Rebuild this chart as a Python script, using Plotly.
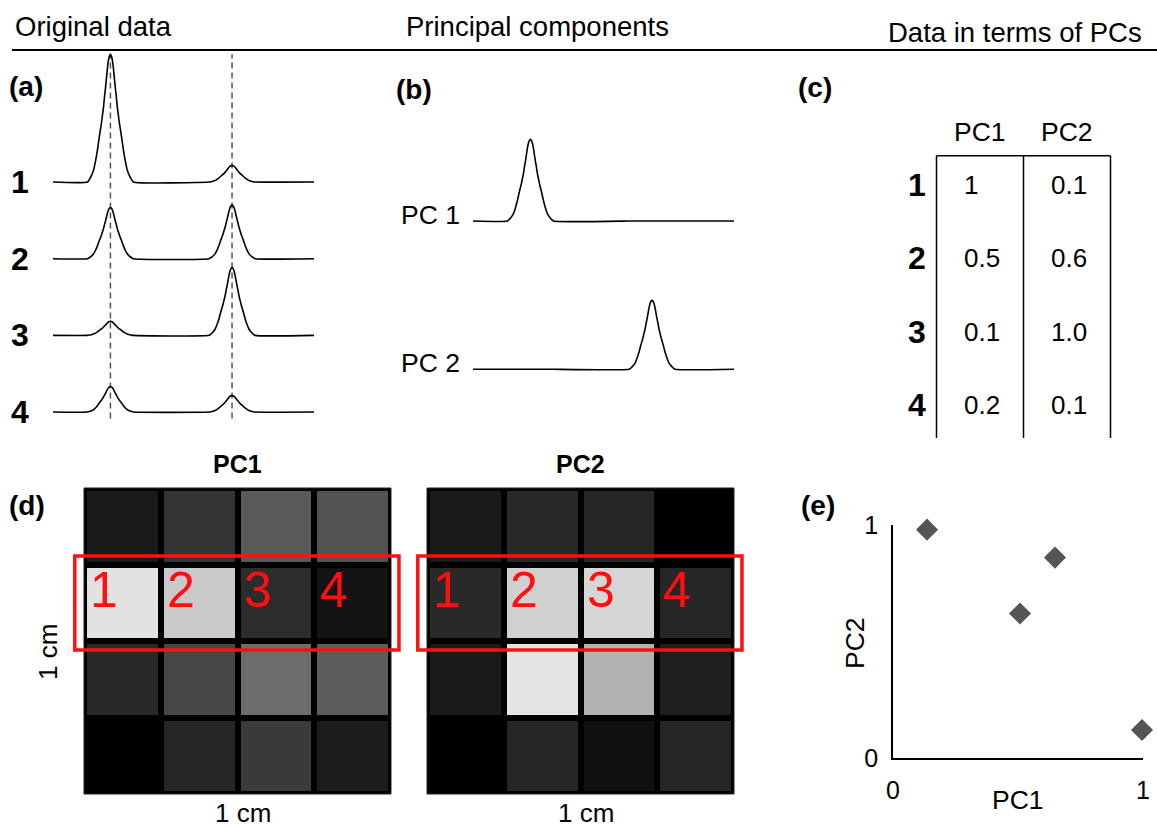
import plotly.graph_objects as go

W, H = 1157, 827
FONT = "Liberation Sans, Arial, sans-serif"

# ---------------- data ----------------
# (a) original spectra: two peaks on a 0..100 spectral axis
peak_positions = [22.0, 68.6]
spectra_labels = ["1", "2", "3", "4"]
spectra_peak1 = [1.00, 0.40, 0.11, 0.20]
spectra_peak2 = [0.13, 0.42, 0.53, 0.13]
spectra_offsets = [0.0, -0.6, -1.2, -1.8]

# (b) principal component spectra
pc_labels = ["PC 1", "PC 2"]
pc_peak1 = [0.64, 0.0]
pc_peak2 = [0.0, 0.54]
pc_offsets = [0.0, -1.16]

# peak line shape (offset in spectral units, relative height)
profile_offsets = [0.0, 0.38, 0.77, 1.15, 1.53, 1.92, 2.30, 2.68, 3.07, 3.45,
                   4.21, 4.98, 5.75, 6.51, 7.28, 8.05, 8.81]
profile_heights = [1.00, 0.985, 0.95, 0.89, 0.81, 0.73, 0.66, 0.58, 0.52, 0.46,
                   0.36, 0.25, 0.16, 0.09, 0.05, 0.02, 0.0]

# (c) table of scores
table_rows = ["1", "2", "3", "4"]
table_cols = ["PC1", "PC2"]
table_pc1 = ["1", "0.5", "0.1", "0.2"]
table_pc2 = ["0.1", "0.6", "1.0", "0.1"]

# (d) score maps (grey level 0..255), rows top->bottom
map_pc1 = [[26, 52, 90, 82],
           [226, 201, 44, 20],
           [41, 71, 108, 92],
           [0, 38, 58, 28]]
map_pc2 = [[26, 41, 38, 0],
           [41, 208, 214, 38],
           [27, 228, 178, 30],
           [0, 38, 16, 38]]
map_titles = ["PC1", "PC2"]
highlight_row = 1
highlight_labels = ["1", "2", "3", "4"]

# (e) score plot
scatter_pc1 = [0.136, 0.648, 0.508, 0.996]
scatter_pc2 = [0.98, 0.86, 0.62, 0.12]


# ---------------- helpers ----------------
def xdom(p0, p1):
    return [p0 / W, p1 / W]


def ydom(top, bottom):
    return [1 - bottom / H, 1 - top / H]


def px(x):
    return x / W


def py(y):
    return 1 - y / H


def build_spectrum(a1, a2, off):
    xs, ys = [0.0], [off]
    for pos, amp in zip(peak_positions, [a1, a2]):
        left = [(pos - o, off + amp * h) for o, h in zip(profile_offsets[::-1], profile_heights[::-1])]
        right = [(pos + o, off + amp * h) for o, h in zip(profile_offsets[1:], profile_heights[1:])]
        for x, y in left + right:
            xs.append(x)
            ys.append(y)
    xs.append(100.0)
    ys.append(off)
    return xs, ys


fig = go.Figure()
ann = []
shapes = []

# ---------------- (a) ----------------
for lab, a1, a2, off in zip(spectra_labels, spectra_peak1, spectra_peak2, spectra_offsets):
    xs, ys = build_spectrum(a1, a2, off)
    fig.add_trace(go.Scatter(x=xs, y=ys, mode="lines",
                             line=dict(color="black", width=1.6, shape="spline", smoothing=0.6),
                             xaxis="x", yaxis="y", showlegend=False, hoverinfo="skip"))
    ann.append(dict(text="<b>%s</b>" % lab, x=px(20), xref="paper", y=off, yref="y",
                    showarrow=False, font=dict(size=32, color="black"), xanchor="center", yanchor="middle"))
for pos in peak_positions:
    shapes.append(dict(type="line", xref="x", yref="y", x0=pos, x1=pos,
                       y0=min(spectra_offsets) - 0.05, y1=max(spectra_peak1),
                       line=dict(color="#555555", width=1.5, dash="6px,4px"), layer="below"))

# ---------------- (b) ----------------
for lab, a1, a2, off in zip(pc_labels, pc_peak1, pc_peak2, pc_offsets):
    xs, ys = build_spectrum(a1, a2, off)
    fig.add_trace(go.Scatter(x=xs, y=ys, mode="lines",
                             line=dict(color="black", width=1.6, shape="spline", smoothing=0.6),
                             xaxis="x2", yaxis="y2", showlegend=False, hoverinfo="skip"))
    ann.append(dict(text=lab, x=px(462), xref="paper", y=off, yref="y2", yshift=6,
                    showarrow=False, font=dict(size=26.5, color="black"), xanchor="right", yanchor="middle"))

# ---------------- (c) table ----------------
shapes.append(dict(type="line", xref="x3", yref="y3", x0=-0.5, x1=1.5, y0=-0.4, y1=-0.4,
                   line=dict(color="black", width=1.5)))
for xv in [-0.5, 0.5, 1.5]:
    shapes.append(dict(type="line", xref="x3", yref="y3", x0=xv, x1=xv, y0=-0.4, y1=3.45,
                       line=dict(color="black", width=1.5)))
for j, c in enumerate(table_cols):
    ann.append(dict(text=c, x=j, xref="x3", y=-0.72, yref="y3", showarrow=False,
                    font=dict(size=26.5, color="black"), xanchor="center", yanchor="middle"))
for i, r in enumerate(table_rows):
    ann.append(dict(text="<b>%s</b>" % r, x=-0.5, xref="x3", y=i, yref="y3", xshift=-9,
                    showarrow=False, font=dict(size=32, color="black"), xanchor="right", yanchor="middle"))
    for j, v in enumerate([table_pc1[i], table_pc2[i]]):
        ann.append(dict(text=v, x=j, xref="x3", y=i, yref="y3", xshift=-18, showarrow=False,
                        font=dict(size=26, color="black"), xanchor="left", yanchor="middle"))

# ---------------- (d) maps ----------------
map_boxes = [(84, 391), (427, 734)]   # pixel extents of each grid
for k, (zmap, title) in enumerate(zip([map_pc1, map_pc2], map_titles)):
    xa = "x%d" % (4 + k)
    ya = "y%d" % (4 + k)
    shapes.append(dict(type="rect", xref=xa, yref=ya, x0=-0.5, x1=3.5, y0=-0.5, y1=3.5,
                       fillcolor="black", line=dict(color="#222222", width=1), layer="below"))
    fig.add_trace(go.Heatmap(z=zmap, x=[0, 1, 2, 3], y=[0, 1, 2, 3], zmin=0, zmax=255,
                             colorscale=[[0, "black"], [1, "white"]], showscale=False,
                             xgap=6, ygap=6, xaxis=xa, yaxis=ya, hoverinfo="skip"))
    shapes.append(dict(type="rect", xref=xa, yref=ya, x0=-0.62, x1=3.604,
                       y0=highlight_row - 0.61, y1=highlight_row + 0.618,
                       line=dict(color="#ff1010", width=3.5), fillcolor="rgba(0,0,0,0)", layer="above"))
    for c, lab in enumerate(highlight_labels):
        ann.append(dict(text=lab, x=c - 0.5, xref=xa, y=highlight_row, yref=ya, xshift=4, yshift=13,
                        showarrow=False, font=dict(size=50, color="#ff1010"), xanchor="left", yanchor="middle"))
    cx = (map_boxes[k][0] + map_boxes[k][1]) / 2
    ann.append(dict(text="<b>%s</b>" % title, x=px(cx), xref="paper", y=py(464), yref="paper", showarrow=False,
                    font=dict(size=25, color="black"), xanchor="center", yanchor="middle"))
    ann.append(dict(text="1 cm", x=px(cx + 5), xref="paper", y=py(813), yref="paper", showarrow=False,
                    font=dict(size=26, color="black"), xanchor="center", yanchor="middle"))
ann.append(dict(text="1 cm", x=px(48), xref="paper", y=py(652), yref="paper", showarrow=False, textangle=-90,
                font=dict(size=26, color="black"), xanchor="center", yanchor="middle"))

# ---------------- (e) scatter ----------------
fig.add_trace(go.Scatter(x=scatter_pc1, y=scatter_pc2, mode="markers",
                         marker=dict(symbol="diamond", size=17, color="#555555"),
                         xaxis="x6", yaxis="y6", showlegend=False, cliponaxis=False, hoverinfo="skip"))
ann.append(dict(text="PC2", x=px(855), xref="paper", y=py(643), yref="paper", textangle=-90, showarrow=False,
                font=dict(size=26.5, color="black"), xanchor="center", yanchor="middle"))
ann.append(dict(text="PC1", x=px(1018), xref="paper", y=py(800), yref="paper", showarrow=False,
                font=dict(size=26.5, color="black"), xanchor="center", yanchor="middle"))

# ---------------- headers / panel letters ----------------
ann.append(dict(text="Original data", x=px(13), y=py(26), xref="paper", yref="paper", showarrow=False,
                font=dict(size=27.5, color="black"), xanchor="left", yanchor="middle"))
ann.append(dict(text="Principal components", x=px(404), y=py(26), xref="paper", yref="paper", showarrow=False,
                font=dict(size=27.5, color="black"), xanchor="left", yanchor="middle"))
ann.append(dict(text="Data in terms of PCs", x=px(1144), y=py(32), xref="paper", yref="paper", showarrow=False,
                font=dict(size=27.5, color="black"), xanchor="right", yanchor="middle"))
shapes.append(dict(type="line", xref="paper", yref="paper", x0=px(12), x1=1, y0=py(50), y1=py(50),
                   line=dict(color="black", width=1.8)))
for lab, x, y in [("(a)", 26, 86), ("(b)", 414, 89), ("(c)", 815, 87), ("(d)", 27, 505), ("(e)", 818, 505)]:
    ann.append(dict(text="<b>%s</b>" % lab, x=px(x), y=py(y), xref="paper", yref="paper", showarrow=False,
                    font=dict(size=28, color="black"), xanchor="center", yanchor="middle"))

hidden = dict(visible=False, showgrid=False, zeroline=False, fixedrange=True, automargin=False)

# y ranges for spectra panels: 127.8 px per unit
S = 127.8
CW, CH = 76.75, 76.5
layout_axes = dict(
    xaxis=dict(domain=xdom(53, 314), range=[0, 100], anchor="y", **hidden),
    yaxis=dict(domain=ydom(45, 425), range=[-(425 - 182) / S, (182 - 45) / S], anchor="x", **hidden),
    xaxis2=dict(domain=xdom(473, 734), range=[0, 100], anchor="y2", **hidden),
    yaxis2=dict(domain=ydom(100, 400), range=[-(400 - 221) / S, (221 - 100) / S], anchor="x2", **hidden),
    xaxis3=dict(domain=xdom(880, 1140), range=[(880 - 980) / 87.0, (1140 - 980) / 87.0], anchor="y3", **hidden),
    yaxis3=dict(domain=ydom(100, 450), range=[(450 - 185) / 73.3, (100 - 185) / 73.3], anchor="x3", **hidden),
    xaxis4=dict(domain=xdom(70, 405), range=[-0.5 - 14 / CW, 3.5 + 14 / CW], anchor="y4", **hidden),
    yaxis4=dict(domain=ydom(480, 800), range=[3.5 + 6 / CH, -0.5 - 8 / CH], anchor="x4", **hidden),
    xaxis5=dict(domain=xdom(413, 748), range=[-0.5 - 14 / CW, 3.5 + 14 / CW], anchor="y5", **hidden),
    yaxis5=dict(domain=ydom(480, 800), range=[3.5 + 6 / CH, -0.5 - 8 / CH], anchor="x5", **hidden),
    xaxis6=dict(domain=xdom(893, 1143), range=[0, 1], anchor="y6", showline=True, linecolor="black",
                linewidth=1.6, showgrid=False, zeroline=False, tickvals=[0, 1], ticks="", automargin=False,
                ticklabelstandoff=9, tickfont=dict(size=25, color="black"), fixedrange=True),
    yaxis6=dict(domain=ydom(525, 758), range=[0, 1], anchor="x6", showline=True, linecolor="black",
                linewidth=1.6, showgrid=False, zeroline=False, tickvals=[0, 1], ticks="", automargin=False,
                ticklabelstandoff=8, tickfont=dict(size=25, color="black"), fixedrange=True),
)

fig.update_layout(
    template="none",
    width=W, height=H, margin=dict(l=0, r=0, t=0, b=0, pad=0, autoexpand=False),
    paper_bgcolor="white", plot_bgcolor="white",
    font=dict(family=FONT, color="black"),
    showlegend=False, annotations=ann, shapes=shapes,
    **layout_axes,
)

fig.write_html("out.html", config={"displayModeBar": False})
